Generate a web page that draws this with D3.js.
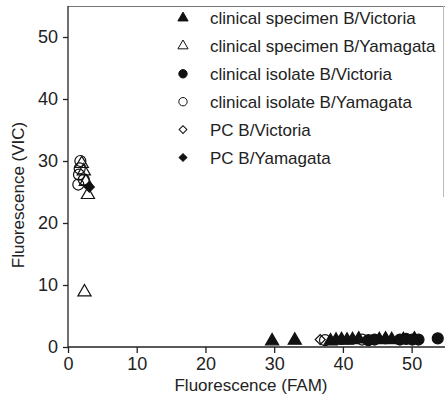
<!DOCTYPE html>
<html>
<head>
<meta charset="utf-8">
<script src="https://cdn.jsdelivr.net/npm/d3@7"></script>
<style>
  body { margin: 0; background: #fff; }
  text { font-family: "Liberation Sans", Arial, sans-serif; fill: #222; }
</style>
</head>
<body>
<main></main>
<script>
// series (FAM, VIC)
var specVicX = [29.7, 33.0, 38.2, 39.0, 39.8, 40.6, 41.4, 42.3, 45.3, 46.2, 47.1, 48.8, 50.4],
    specVicY = [0.8, 0.9, 0.8, 0.9, 1.0, 0.9, 1.0, 1.1, 1.0, 1.1, 1.0, 1.0, 1.1]
var specYamX = [2.4, 2.9, 2.6, 2.3, 2.0],
    specYamY = [8.7, 24.4, 26.5, 28.2, 29.4]
var isoVicX = [43.7, 44.6, 48.3, 49.2, 50.1, 51.0, 53.8],
    isoVicY = [1.1, 1.2, 1.2, 1.3, 1.2, 1.2, 1.4]
var isoYamX = [1.8, 1.7, 1.6, 1.5, 2.3, 37.4, 42.8],
    isoYamY = [30.0, 28.8, 27.8, 26.2, 27.0, 1.1, 1.2]
var pcVicX = [36.7],
    pcVicY = [1.2]
var pcYamX = [3.1],
    pcYamY = [25.8]

var xTicks = [0, 10, 20, 30, 40, 50],
    yTicks = [0, 10, 20, 30, 40, 50]

var legendNames = ["clinical specimen B/Victoria", "clinical specimen B/Yamagata",
                   "clinical isolate B/Victoria", "clinical isolate B/Yamagata",
                   "PC B/Victoria", "PC B/Yamagata"]

var series = [
  {name: legendNames[0], xs: specVicX, ys: specVicY, shape: 'tri', filled: true},
  {name: legendNames[1], xs: specYamX, ys: specYamY, shape: 'tri', filled: false},
  {name: legendNames[2], xs: isoVicX, ys: isoVicY, shape: 'circ', filled: true},
  {name: legendNames[3], xs: isoYamX, ys: isoYamY, shape: 'circ', filled: false},
  {name: legendNames[4], xs: pcVicX, ys: pcVicY, shape: 'dia', filled: false},
  {name: legendNames[5], xs: pcYamX, ys: pcYamY, shape: 'dia', filled: true}
]

var shapes = {tri: d3.symbolTriangle, circ: d3.symbolCircle, dia: d3.symbolSquare}

var svg = d3.select('main').append('svg')
    .attr('width', 445)
    .attr('height', 398)

var x = d3.scaleLinear().domain([0, 55]).range([68, 446])
var y = d3.scaleLinear().domain([0, 55]).range([347, 6])

// frame: top border and the partial right edge
svg.append('line')
    .attr('x1', 68).attr('x2', 445).attr('y1', 6.5).attr('y2', 6.5)
    .attr('stroke', '#777').attr('stroke-width', 1.2)
svg.append('line')
    .attr('x1', 443.5).attr('x2', 443.5).attr('y1', 6).attr('y2', 197)
    .attr('stroke', '#bbb').attr('stroke-width', 1)

svg.append('g')
    .attr('class', 'xaxis')
    .attr('transform', 'translate(0,347)')
    .call(d3.axisBottom(x).tickValues(xTicks).tickSize(6).tickPadding(4).tickSizeOuter(0))
svg.append('g')
    .attr('class', 'yaxis')
    .attr('transform', 'translate(68,0)')
    .call(d3.axisLeft(y).tickValues(yTicks).tickSize(5).tickPadding(5).tickSizeOuter(0))

svg.selectAll('.domain, .tick line').attr('stroke', '#222').attr('stroke-width', 1.3)
svg.selectAll('.tick text').style('font-size', '18px').attr('fill', '#222')
svg.select('.xaxis .domain').attr('d', 'M68,0H445')
svg.select('.yaxis .domain').attr('d', 'M0,347V6')

svg.append('text')
    .attr('x', 251).attr('y', 391)
    .attr('text-anchor', 'middle')
    .style('font-size', '17px')
    .text('Fluorescence (FAM)')
svg.append('text')
    .attr('transform', 'translate(24,195) rotate(-90)')
    .attr('text-anchor', 'middle')
    .style('font-size', '17px')
    .text('Fluorescence (VIC)')

function pts(s) {
  return s.xs.map(function(v, i) { return {x: v, y: s.ys[i]} })
}

series.forEach(function(s) {
  var size = s.shape === 'tri' ? 75 : s.shape === 'circ' ? 95 : 50
  svg.append('g').selectAll('path').data(pts(s))
    .enter().append('path')
      .attr('d', d3.symbol().type(shapes[s.shape]).size(size))
      .attr('transform', function(d) {
        var dy = s.shape === 'tri' ? -1 : 0
        var rot = s.shape === 'dia' ? ' rotate(45)' : ''
        return 'translate(' + x(d.x) + ',' + (y(d.y) + dy) + ')' + rot
      })
      .attr('fill', s.filled ? '#111' : 'none')
      .attr('stroke', '#111')
      .attr('stroke-width', 1.2)
})

var legend = svg.append('g')
    .selectAll('g').data(series)
    .enter().append('g')
      .attr('transform', function(d, i) { return 'translate(183,' + (18 + i * 27.9) + ')' })

legend.append('path')
    .attr('d', function(d) {
      var size = d.shape === 'circ' ? 55 : d.shape === 'dia' ? 30 : 45
      return d3.symbol().type(shapes[d.shape]).size(size)()
    })
    .attr('transform', function(d) { return d.shape === 'dia' ? 'rotate(45)' : null })
    .attr('fill', function(d) { return d.filled ? '#111' : '#fff' })
    .attr('stroke', '#111')
    .attr('stroke-width', 1)

legend.append('text')
    .attr('x', 27)
    .attr('y', 6)
    .style('font-size', '17px')
    .text(function(d) { return d.name })
</script>
</body>
</html>
